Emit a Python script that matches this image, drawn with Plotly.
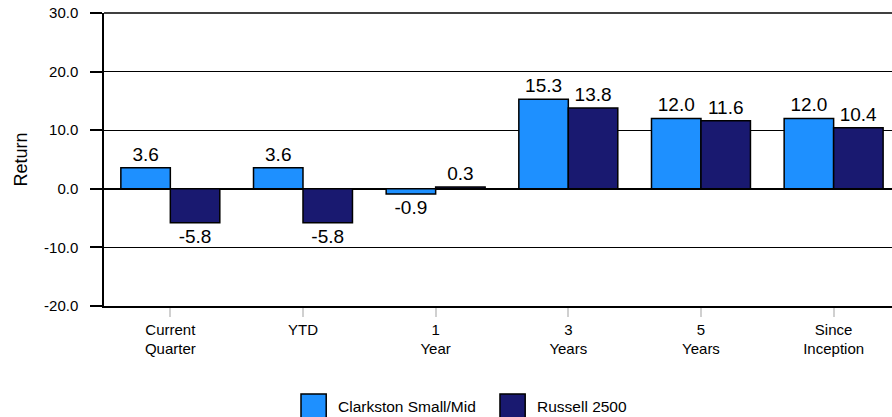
import plotly.graph_objects as go

categories = ['Current<br>Quarter', 'YTD', '1<br>Year', '3<br>Years', '5<br>Years', 'Since<br>Inception']
clarkston = [3.6, 3.6, -0.9, 15.3, 12.0, 12.0]
russell = [-5.8, -5.8, 0.3, 13.8, 11.6, 10.4]
series_names = ['Clarkston Small/Mid', 'Russell 2500']
series_colors = ['#1E90FF', '#191970']
y_tickvals = [-20, -10, 0, 10, 20, 30]
y_ticktext = ['-20.0', '-10.0', '0.0', '10.0', '20.0', '30.0']

FONT = 'Liberation Sans, Arial, sans-serif'

fig = go.Figure()
for name, vals, color in zip(series_names, [clarkston, russell], series_colors):
    fig.add_trace(go.Bar(
        x=categories, y=vals, name=name,
        marker=dict(color=color, line=dict(color='black', width=1.5)),
        text=[f'{v:.1f}' for v in vals], textposition='outside',
        textfont=dict(size=19, color='black', family=FONT),
        cliponaxis=False, showlegend=False,
    ))

fig.update_layout(
    width=892, height=417,
    margin=dict(l=104, r=0, t=13, b=111, autoexpand=False),
    barmode='group', bargap=0.254, bargroupgap=0,
    plot_bgcolor='white', paper_bgcolor='white',
    font=dict(family=FONT, color='black', size=15),
    uniformtext=dict(mode=False),
)

fig.update_xaxes(
    range=[-0.5, 5.44], showline=True, linecolor='black', linewidth=1.5,
    ticks='outside', ticklen=9, tickwidth=2, tickcolor='#d0d0d0',
    tickfont=dict(size=15), showgrid=False, automargin=False,
)
fig.update_yaxes(
    range=[-20, 30], tickvals=y_tickvals, ticktext=y_ticktext,
    showline=True, linecolor='black', linewidth=1.5,
    ticks='outside', ticklen=12, tickcolor='black', tickwidth=1.5,
    ticklabelstandoff=9, ticklabeloverflow='allow',
    showgrid=True, gridcolor='black', gridwidth=1.2,
    zeroline=True, zerolinecolor='black', zerolinewidth=1.5,
    tickfont=dict(size=15), automargin=False,
    title=dict(text='Return', font=dict(size=18), standoff=12),
)

# top border of the plot frame
fig.add_shape(type='line', xref='paper', yref='paper', x0=0, x1=1, y0=1, y1=1,
              line=dict(color='black', width=1.5))

# custom legend with large square swatches
legend_x = [0.25, 0.5025]
for name, color, x0 in zip(series_names, series_colors, legend_x):
    fig.add_shape(type='rect', xref='paper', yref='paper',
                  x0=x0, x1=x0 + 0.032, y0=-0.384, y1=-0.3,
                  fillcolor=color, line=dict(color='black', width=1.5))
    fig.add_annotation(xref='paper', yref='paper', x=x0 + 0.044, y=-0.342,
                       text=name, showarrow=False, xanchor='left', yanchor='middle',
                       font=dict(size=15.5, color='black'))

# drop the default page margin so the figure fills the window exactly
fig.write_html('out.html', config={'displayModeBar': False},
               post_script="document.body.style.margin='0';")
